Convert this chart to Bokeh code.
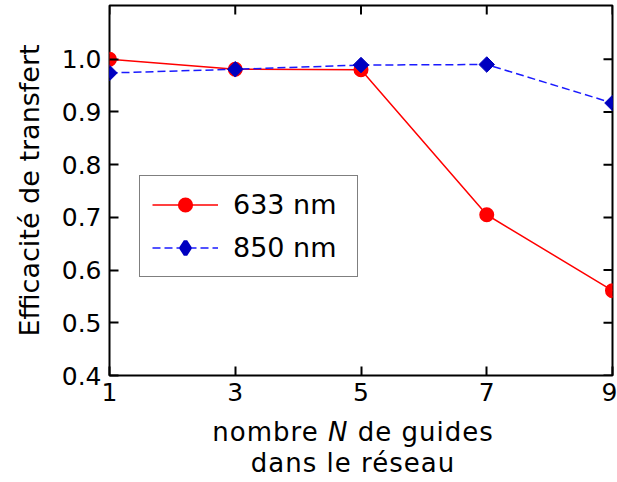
import math
from bokeh.plotting import figure
from bokeh.models import (FixedTicker, Legend, LegendItem, Range1d,
                          NumeralTickFormatter, Div)
from bokeh.layouts import column
from bokeh.embed import file_html
from bokeh.resources import INLINE

# ---- data ----
n_guides = [1, 3, 5, 7, 9]
eff_633 = [1.000, 0.981, 0.980, 0.705, 0.561]
eff_850 = [0.974, 0.981, 0.989, 0.990, 0.917]
x_ticks = [1, 3, 5, 7, 9]
y_ticks = [0.4, 0.5, 0.6, 0.7, 0.8, 0.9, 1.0]
series_labels = ["633 nm", "850 nm"]
x_title_html = "nombre <i>N</i> de guides<br>dans le réseau"
y_title = "Efficacité de transfert"

FONT = "DejaVu Sans"
X_LO, X_HI = 1, 9
Y_LO, Y_HI = 0.4, 1.102

p = figure(width=617, height=412, output_backend="svg", toolbar_location=None,
           x_range=Range1d(X_LO, X_HI), y_range=Range1d(Y_LO, Y_HI),
           min_border_left=109, min_border_right=5, min_border_top=5,
           min_border_bottom=37)
p.grid.visible = False
p.outline_line_color = "black"
p.outline_line_width = 2
p.background_fill_color = "white"
p.border_fill_color = "white"

for ax, ticks in ((p.xaxis[0], x_ticks), (p.yaxis[0], y_ticks)):
    ax.ticker = FixedTicker(ticks=ticks)
    ax.axis_line_color = None
    ax.major_tick_in = 9
    ax.major_tick_out = 0
    ax.major_tick_line_width = 2
    ax.major_tick_line_color = "black"
    ax.minor_tick_in = 0
    ax.minor_tick_out = 0
    ax.major_label_text_font = FONT
    ax.major_label_text_font_size = "25px"
    ax.major_label_text_color = "black"

xa = p.xaxis[0]
xa.formatter = NumeralTickFormatter(format="0")
xa.major_label_standoff = 7

ya = p.yaxis[0]
ya.formatter = NumeralTickFormatter(format="0.0")
ya.major_label_standoff = 8
ya.axis_label = y_title
ya.axis_label_text_font = FONT
ya.axis_label_text_font_size = "27px"
ya.axis_label_text_font_style = "normal"
ya.axis_label_text_color = "black"
ya.axis_label_standoff = 14

# mirrored inward ticks on top and right edges of the frame
p.ray(x=x_ticks, y=Y_HI, length=9, length_units="screen", angle=-math.pi / 2,
      line_color="black", line_width=2)
p.ray(x=X_HI, y=y_ticks, length=9, length_units="screen", angle=math.pi,
      line_color="black", line_width=2)

# ---- series ----
l1 = p.line(n_guides, eff_633, line_color="#ff0000", line_width=1.5)
s1 = p.scatter(n_guides, eff_633, marker="circle", size=13, line_width=2,
               fill_color="#ff0000", line_color="#ff0000")
l2 = p.line(n_guides, eff_850, line_color="#1a1aff", line_width=1.5,
            line_dash="8 4")
# diamond legend key (hidden under the rotated squares drawn next)
key2 = p.scatter(n_guides, eff_850, marker="diamond", size=8, line_width=4,
                 fill_color="#0000c0", line_color="#0000c0")
s2 = p.scatter(n_guides, eff_850, marker="square", angle=math.pi / 4, size=11,
               fill_color="#0000c0", line_color="#0000c0")

legend = Legend(items=[LegendItem(label=series_labels[0], renderers=[l1, s1]),
                       LegendItem(label=series_labels[1], renderers=[l2, key2])],
                location=(30, 98), orientation="vertical",
                padding=12, spacing=10, margin=0,
                glyph_width=66, glyph_height=33, label_height=33,
                label_width=112, label_standoff=15,
                label_text_font=FONT, label_text_font_size="27px",
                label_text_color="black",
                border_line_color="black", border_line_width=1.5,
                background_fill_color="white", background_fill_alpha=1)
p.add_layout(legend, "center")

# ---- x axis title (two lines, italic N) ----
title_div = Div(
    text=('<div style="font-family:\'DejaVu Sans\'; font-size:26px; '
          'line-height:31px; letter-spacing:1px; color:black; text-align:center; '
          'margin-left:80px; width:546px; padding-top:5px; white-space:nowrap">'
          + x_title_html + '</div>'),
    width=617, height=70, margin=0)

layout = column(p, title_div, spacing=0, margin=0)

open("out.html", "w").write(file_html(layout, INLINE))
